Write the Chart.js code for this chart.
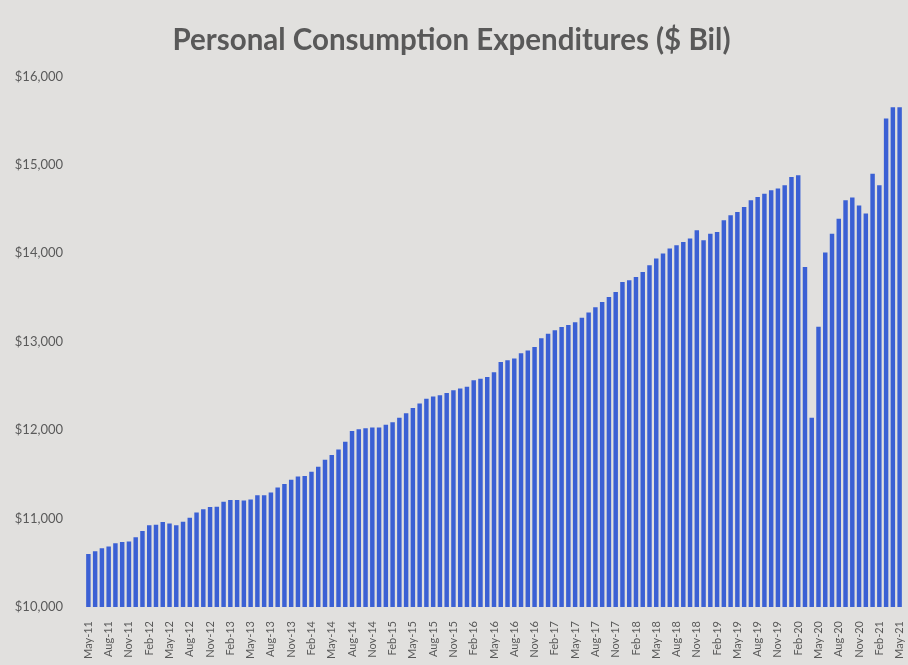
<!DOCTYPE html>
<html>
<head>
<meta charset="utf-8">
<script src="https://cdn.jsdelivr.net/npm/chart.js@4/dist/chart.umd.min.js"></script>
<style>
  html, body { margin: 0; padding: 0; background: #e1e0de; }
  #wrap { width: 908px; height: 665px; }
</style>
</head>
<body>
<div id="wrap"><canvas id="c" width="908" height="665"></canvas></div>
<script>
// Monthly categories, May 2011 .. May 2021
const monthNames = ['Jan','Feb','Mar','Apr','May','Jun','Jul','Aug','Sep','Oct','Nov','Dec'];
const categories = [];
for (let y = 2011; y <= 2021; y++) {
  for (let m = 0; m < 12; m++) {
    if (y === 2011 && m < 4) continue;
    if (y === 2021 && m > 4) continue;
    categories.push(monthNames[m] + '-' + String(y).slice(2));
  }
}

// Tick labels shown on the x axis (every third month)
const tickLabels = [
  'May-11','Aug-11','Nov-11','Feb-12','May-12','Aug-12','Nov-12','Feb-13','May-13','Aug-13','Nov-13',
  'Feb-14','May-14','Aug-14','Nov-14','Feb-15','May-15','Aug-15','Nov-15','Feb-16','May-16','Aug-16',
  'Nov-16','Feb-17','May-17','Aug-17','Nov-17','Feb-18','May-18','Aug-18','Nov-18','Feb-19','May-19',
  'Aug-19','Nov-19','Feb-20','May-20','Aug-20','Nov-20','Feb-21','May-21'
];

// Personal consumption expenditures, $ billions
const pce2011 = [10600, 10630, 10665, 10685, 10720, 10735, 10740, 10790];
const pce2012 = [10860, 10925, 10930, 10960, 10945, 10925, 10965, 11010, 11070, 11105, 11130, 11135];
const pce2013 = [11190, 11210, 11210, 11205, 11215, 11265, 11265, 11295, 11350, 11390, 11440, 11475];
const pce2014 = [11480, 11530, 11585, 11665, 11720, 11780, 11870, 11990, 12010, 12020, 12030, 12030];
const pce2015 = [12060, 12090, 12140, 12190, 12250, 12300, 12355, 12380, 12395, 12420, 12450, 12470];
const pce2016 = [12490, 12565, 12580, 12600, 12655, 12770, 12790, 12810, 12870, 12900, 12940, 13040];
const pce2017 = [13090, 13130, 13165, 13190, 13220, 13270, 13330, 13390, 13450, 13506, 13563, 13676];
const pce2018 = [13695, 13732, 13789, 13864, 13940, 13996, 14053, 14090, 14128, 14166, 14260, 14147];
const pce2019 = [14222, 14241, 14373, 14429, 14467, 14523, 14599, 14636, 14674, 14712, 14731, 14768];
const pce2020 = [14862, 14881, 13845, 12140, 13170, 14010, 14220, 14390, 14600, 14630, 14540, 14450];
const pce2021 = [14900, 14770, 15525, 15650, 15650];
const values = [].concat(pce2011, pce2012, pce2013, pce2014, pce2015, pce2016, pce2017, pce2018, pce2019, pce2020, pce2021);

// y-axis ticks
const yTicks = [10000, 11000, 12000, 13000, 14000, 15000, 16000];

const bgPlugin = {
  id: 'bg',
  beforeDraw(chart) {
    const ctx = chart.ctx;
    ctx.save();
    ctx.fillStyle = '#e1e0de';
    ctx.fillRect(0, 0, chart.width, chart.height);
    ctx.restore();
  }
};

new Chart(document.getElementById('c'), {
  type: 'bar',
  data: {
    labels: categories,
    datasets: [{
      data: values,
      backgroundColor: '#3b60d4',
      borderWidth: 0,
      barPercentage: 0.66,
      categoryPercentage: 1.0
    }]
  },
  options: {
    responsive: false,
    animation: false,
    layout: { padding: { left: 0, right: 5, top: 0, bottom: 0 } },
    plugins: {
      legend: { display: false },
      tooltip: { enabled: false },
      title: {
        display: true,
        text: 'Personal Consumption Expenditures ($ Bil)',
        color: '#595959',
        font: { family: 'Lato', size: 29.5, weight: 'bold' },
        padding: { top: 23, bottom: 18 }
      }
    },
    scales: {
      x: {
        grid: { display: false },
        border: { display: false },
        ticks: {
          autoSkip: false,
          maxRotation: 90,
          minRotation: 90,
          padding: 6,
          color: '#5a5a5a',
          font: { family: 'Lato', size: 11 },
          callback: function(v, i) {
            const l = categories[i];
            return tickLabels.includes(l) ? l : '';
          }
        },
        afterFit(scale) {
          scale.height = 58;
          scale.paddingLeft = 0;
          scale.paddingRight = 0;
        }
      },
      y: {
        min: 10000,
        max: 16000,
        grid: { display: false },
        border: { display: false },
        afterBuildTicks(scale) { scale.ticks = yTicks.map(v => ({ value: v })); },
        ticks: {
          padding: 14,
          color: '#5a5a5a',
          font: { family: 'Lato', size: 13 },
          callback: v => '$' + v.toLocaleString('en-US')
        },
        afterFit(scale) { scale.width = 85; }
      }
    }
  },
  plugins: [bgPlugin]
});
</script>
</body>
</html>
